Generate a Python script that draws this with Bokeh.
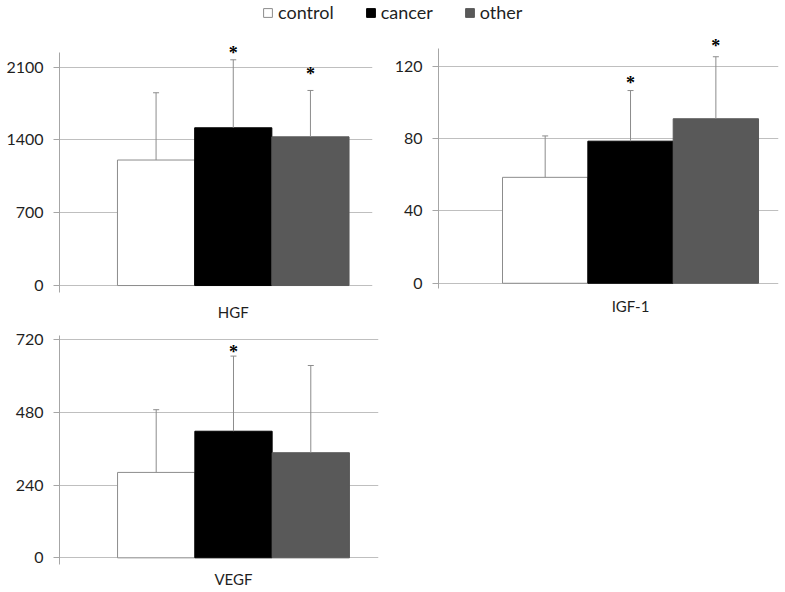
from bokeh.plotting import figure
from bokeh.models import (ColumnDataSource, Range1d, FixedTicker, Whisker, TeeHead,
                          LabelSet, Legend, LegendItem)
from bokeh.layouts import column, row
from bokeh.embed import file_html
from bokeh.resources import INLINE

# ---------------- data ----------------
groups = ["control", "cancer", "other"]

hgf_mean = [1207, 1517, 1430]
hgf_sd = [647, 654, 446]
hgf_sig = ["", "*", "*"]
hgf_star_y = [0, 2267, 2062]
hgf_ticks = [0, 700, 1400, 2100]

igf_mean = [58.6, 78.6, 91.0]
igf_sd = [22.9, 28.0, 34.3]
igf_sig = ["", "*", "*"]
igf_star_y = [0, 112.7, 132.8]
igf_ticks = [0, 40, 80, 120]

vegf_mean = [282, 418, 347]
vegf_sd = [207, 248, 288]
vegf_sig = ["", "*", ""]
vegf_star_y = [0, 688, 0]
vegf_ticks = [0, 240, 480, 720]

# ---------------- style ----------------
FONT = "Lato"
TXT = "#1f1f1f"
fills = ["white", "black", "#595959"]
edges = ["#8c8c8c", "black", "#595959"]
ERR = "#8c8c8c"
GRID = "#bfbfbf"
AXIS = "#a6a6a6"


def panel(name, mean, sd, sig, star_y, ticks, yr, ybounds, xr, fw, fh, bl, bt, br, bb, xstand):
    p = figure(frame_width=fw, frame_height=fh, x_range=Range1d(*xr), y_range=Range1d(*yr),
               toolbar_location=None, output_backend="svg",
               min_border_left=bl, min_border_top=bt, min_border_right=br, min_border_bottom=bb)
    p.outline_line_color = None
    idx = list(range(len(groups)))
    src = ColumnDataSource(dict(x=idx, top=mean, fill=fills, edge=edges,
                                upper=[m + s for m, s in zip(mean, sd)]))
    p.vbar(x="x", top="top", width=1.0, bottom=0, fill_color="fill", line_color="edge",
           line_width=1, source=src)
    w = Whisker(base="x", lower="top", upper="upper", source=src, line_color=ERR, line_width=1,
                upper_head=TeeHead(size=6, line_color=ERR, line_width=1), lower_head=None,
                level="overlay")
    p.add_layout(w)
    sx = [i for i, s in zip(idx, sig) if s]
    sy = [y for y, s in zip(star_y, sig) if s]
    st = [s for s in sig if s]
    ssrc = ColumnDataSource(dict(x=sx, y=sy, t=st))
    p.add_layout(LabelSet(x="x", y="y", text="t", source=ssrc, text_align="center",
                          text_baseline="middle", text_font=FONT, text_font_size="18px",
                          text_font_style="bold", text_color="black", y_offset=-3))
    # y axis
    p.yaxis.ticker = FixedTicker(ticks=ticks)
    p.yaxis.bounds = ybounds
    p.yaxis.axis_line_color = AXIS
    p.yaxis.major_tick_line_color = AXIS
    p.yaxis.major_tick_in = 0
    p.yaxis.major_tick_out = 6
    p.yaxis.minor_tick_line_color = None
    p.yaxis.major_label_standoff = 10
    p.yaxis.major_label_text_font = FONT
    p.yaxis.major_label_text_font_size = "16px"
    p.yaxis.major_label_text_color = TXT
    p.ygrid.ticker = FixedTicker(ticks=ticks)
    p.ygrid.grid_line_color = GRID
    p.xgrid.grid_line_color = None
    # x axis: category label
    mid = len(groups) // 2
    p.xaxis.ticker = FixedTicker(ticks=[mid])
    p.xaxis.major_label_overrides = {mid: name}
    p.xaxis.axis_line_color = None
    p.xaxis.major_tick_line_color = None
    p.xaxis.minor_tick_line_color = None
    p.xaxis.major_tick_out = 0
    p.xaxis.major_label_standoff = xstand
    p.xaxis.major_label_text_font = FONT
    p.xaxis.major_label_text_font_size = "15px"
    p.xaxis.major_label_text_color = TXT
    return p


p1 = panel("HGF", hgf_mean, hgf_sd, hgf_sig, hgf_star_y, hgf_ticks,
           (-67, 2395), (-64, 2241), (-1.251, 2.804), 313, 256, 59, 12, 16, 33, 10)
p2 = panel("IGF-1", igf_mean, igf_sd, igf_sig, igf_star_y, igf_ticks,
           (-5.1, 136.5), (-2.9, 129.85), (-1.25, 2.734), 340, 256, 50, 12, 4, 33, 4)
p3 = panel("VEGF", vegf_mean, vegf_sd, vegf_sig, vegf_star_y, vegf_ticks,
           (-22, 734), (-22, 734), (-1.251, 2.876), 319, 229, 59, 10, 10, 28, 5)

# legend strip
leg = figure(width=769, height=24, x_range=Range1d(10, 11), y_range=Range1d(10, 11),
             toolbar_location=None, output_backend="svg",
             min_border_left=59, min_border_right=0, min_border_top=0, min_border_bottom=0)
leg.axis.visible = False
leg.grid.visible = False
leg.outline_line_color = None
items = []
for i, (g, f, e) in enumerate(zip(groups, fills, edges)):
    r = leg.vbar(x=[i], top=[1], width=0.5, fill_color=f, line_color=e)
    items.append(LegendItem(label=g, renderers=[r]))
legend = Legend(items=items, orientation="horizontal", location=(203, 1),
                glyph_width=11, glyph_height=11, label_standoff=5, spacing=31,
                padding=0, margin=0, border_line_color=None, background_fill_alpha=0,
                label_text_font=FONT, label_text_font_size="18px", label_text_color=TXT)
leg.add_layout(legend)

layout = column(leg, row(p1, p2), p3)
open("out.html", "w").write(file_html(layout, INLINE))
